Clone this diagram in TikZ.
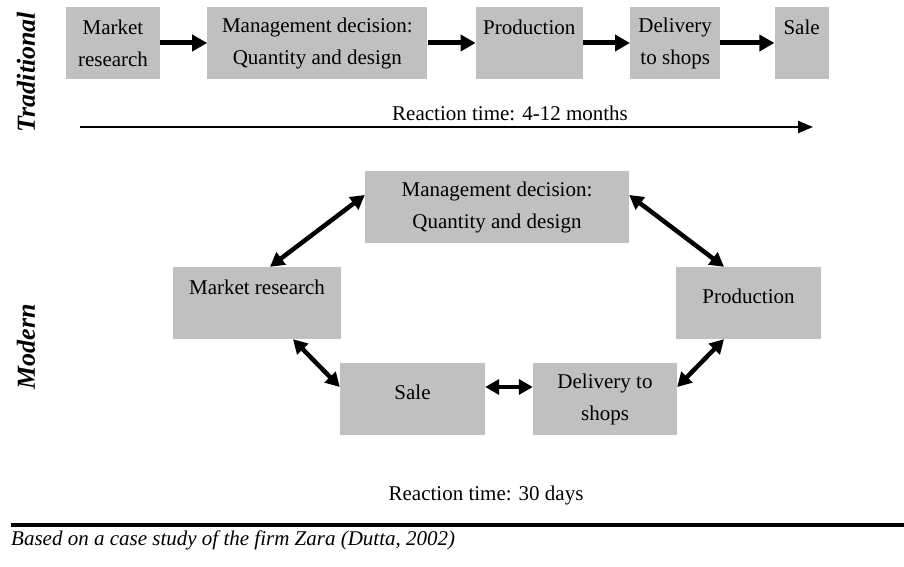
\documentclass[tikz,border=0pt]{standalone}
\usepackage{fontspec}
\setmainfont{Liberation Serif}
\usetikzlibrary{positioning,arrows.meta}
\definecolor{boxgray}{HTML}{C0C0C0}

\begin{document}
\begin{tikzpicture}[
    x=1pt, y=-1pt,
    box/.style={rectangle, fill=boxgray, inner sep=0pt, align=center, minimum height=72pt, font=\fontsize{21}{32}\selectfont},
    flow/.style={line width=5pt, -{Triangle[length=15pt,width=16pt]}},
    link/.style={line width=4.5pt, {Triangle[length=14pt,width=15pt]}-{Triangle[length=14pt,width=15pt]}},
    side/.style={rotate=90, font=\fontsize{26}{30}\selectfont\bfseries\itshape},
    caption/.style={inner sep=0pt, font=\fontsize{21}{25}\selectfont}
]
\useasboundingbox (0,0) rectangle (904,567);

% Traditional chain
\node[side] (trad) at (26,72) {Traditional};
\node[box, minimum width=94pt] (research) at (113,43) {Market\\research};
\node[box, minimum width=220pt, right=47pt of research] (decision) {Management decision:\\Quantity and design};
\node[box, minimum width=107pt, right=48pt of decision] (production) {Production\\\phantom{P}};
\node[box, minimum width=90pt, right=47pt of production] (delivery) {Delivery\\to shops};
\node[box, minimum width=54pt, right=54pt of delivery] (sale) {Sale\\\phantom{P}};

\draw[flow] (research) -- (decision);
\draw[flow] (decision) -- (production);
\draw[flow] (production) -- (delivery);
\draw[flow] (delivery) -- (sale);

% Reaction time, traditional
\coordinate (slowstart) at (80,127);
\coordinate (slowend) at (813,127);
\draw[line width=2pt, -{Triangle[length=15pt,width=12pt]}] (slowstart) -- (slowend);
\node[caption] (slowtime) at (510,113) {Reaction time: 4-12 months};

% Modern cycle
\node[side] (mod) at (26,347) {Modern};
\node[box, minimum width=264pt] (mdecision) at (497,207) {Management decision:\\Quantity and design};
\node[box, minimum width=168pt] (mresearch) at (257,303) {Market research\\\phantom{P}};
\node[box, minimum width=145pt, text depth=13pt] (mproduction) at (748.5,303) {Production};
\node[box, minimum width=145pt, text depth=13pt] (msale) at (412.5,399) {Sale};
\node[box, minimum width=144pt] (mdelivery) at (605,399) {Delivery to\\shops};

\draw[link] ([xshift=13pt]mresearch.north) -- ([yshift=12pt]mdecision.west);
\draw[link] ([yshift=12pt]mdecision.east) -- ([xshift=-24.5pt]mproduction.north);
\draw[link] ([xshift=-24.5pt]mproduction.south) -- ([yshift=12pt]mdelivery.east);
\draw[link] ([yshift=12pt]msale.east) -- ([yshift=12pt]mdelivery.west);
\draw[link] ([xshift=36pt]mresearch.south) -- ([yshift=12pt]msale.west);

% Reaction time, modern
\node[caption] (fasttime) at (486,495) {Reaction time: 30 days};

% Source
\coordinate (rulestart) at (11,525);
\coordinate (ruleend) at (904,525);
\draw[line width=4pt] (rulestart) -- (ruleend);
\node[caption, anchor=west, font=\fontsize{21}{25}\selectfont\itshape] (source) at (11,540) {Based on a case study of the firm Zara (Dutta, 2002)};

\end{tikzpicture}
\end{document}
